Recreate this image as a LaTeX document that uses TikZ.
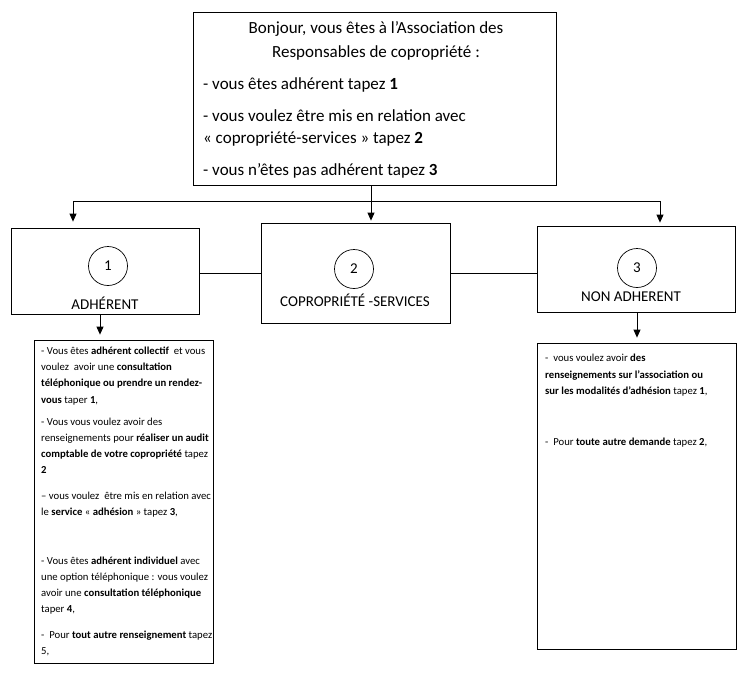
\documentclass[tikz,border=0pt]{standalone}
\usepackage{fontspec}
\setmainfont{Carlito}
\usetikzlibrary{arrows.meta}
\begin{document}
\begin{tikzpicture}[x=1pt,y=-1pt,
  box/.style={draw, line width=0.8pt, inner sep=0pt},
  circ/.style={draw, circle, minimum size=39pt, inner sep=0pt, line width=0.7pt, font=\fontsize{15}{18}\selectfont},
  arr/.style={-{Triangle[length=8pt,width=7pt]}, line width=0.8pt},
  lnk/.style={line width=0.8pt},
  lbl/.style={inner sep=0pt, font=\fontsize{15}{18}\selectfont},
  bigt/.style={inner sep=0pt, anchor=base west, font=\fontsize{17}{20}\selectfont},
  bigc/.style={inner sep=0pt, anchor=base, font=\fontsize{17}{20}\selectfont},
  smallt/.style={inner sep=0pt, anchor=base west, font=\fontsize{10.7}{13}\selectfont}]
\useasboundingbox[fill=white] (0,0) rectangle (753,678);
% boxes
\node[box, minimum width=363pt, minimum height=173pt] (top) at (374.5,98.5) {};
\node[box, minimum width=188pt, minimum height=86pt] (b1) at (105,271) {};
\node[box, minimum width=189pt, minimum height=100pt] (b2) at (355.5,273) {};
\node[box, minimum width=198pt, minimum height=86pt] (b3) at (636,269) {};
\node[box, minimum width=179pt, minimum height=323pt] (lb) at (123.5,501.5) {};
\node[box, minimum width=199pt, minimum height=306pt] (rb) at (636.5,496) {};
% circles and labels
\node[circ] (c1) at (108,266) {1};
\node[circ] (c2) at (354,269) {2};
\node[circ] (c3) at (637,268) {3};
\node[lbl] (n1) at (105,303) {ADHÉRENT};
\node[lbl] (n2) at (355,300) {COPROPRIÉTÉ -SERVICES};
\node[lbl] (n3) at (631,297) {NON ADHERENT};
% connectors
\coordinate (j) at (371,201);
\coordinate (jl) at (73,201);
\coordinate (jr) at (660,201);
\coordinate (dl) at (100,0);
\coordinate (dr) at (637,0);
\draw[lnk] (top.south -| j) -- (j);
\draw[lnk] (jl) -- (jr);
\draw[arr, shorten >=6pt] (jl) -- (jl |- b1.north);
\draw[arr, shorten >=2pt] (j) -- (j |- b2.north);
\draw[arr, shorten >=3pt] (jr) -- (jr |- b3.north);
\draw[lnk] (b1.east |- b2.west) -- (b2.west);
\draw[lnk] (b2.east) -- (b3.west |- b2.east);
\draw[arr, shorten >=5pt] (b1.south -| dl) -- (dl |- lb.north);
\draw[arr, shorten >=5pt] (b3.south -| dr) -- (dr |- rb.north);
% top text
\node[bigc] (t1) at (376,33) {Bonjour, vous êtes à l’Association des};
\node[bigc] (t2) at (376,57) {Responsables de copropriété :};
\node[bigt] (t3) at (203,89) {- vous êtes adhérent tapez \textbf{1}};
\node[bigt] (t4) at (203,121) {- vous voulez être mis en relation avec};
\node[bigt] (t5) at (203,143) {« copropriété-services » tapez \textbf{2}};
\node[bigt] (t6) at (203,175) {- vous n’êtes pas adhérent tapez \textbf{3}};
% lower left text
\node[smallt] (l1) at (41,354) {- Vous êtes \textbf{adhérent collectif}\ \ et vous};
\node[smallt] (l2) at (41,370) {voulez\ \ avoir une \textbf{consultation}};
\node[smallt] (l3) at (41,386) {\textbf{téléphonique ou prendre un rendez-}};
\node[smallt] (l4) at (41,403) {\textbf{vous} taper \textbf{1},};
\node[smallt] (l5) at (41,425) {- Vous vous voulez avoir des};
\node[smallt] (l6) at (41,441) {renseignements pour \textbf{réaliser un audit}};
\node[smallt] (l7) at (41,457) {\textbf{comptable de votre copropriété} tapez};
\node[smallt] (l8) at (41,473) {\textbf{2}};
\node[smallt] (l9) at (41,499) {– vous voulez\ \ être mis en relation avec};
\node[smallt] (l10) at (41,515) {le \textbf{service} « \textbf{adhésion} » tapez \textbf{3},};
\node[smallt] (l11) at (41,564) {- Vous êtes \textbf{adhérent individuel} avec};
\node[smallt] (l12) at (41,580) {une option téléphonique : vous voulez};
\node[smallt] (l13) at (41,596) {avoir une \textbf{consultation téléphonique}};
\node[smallt] (l14) at (41,612) {taper \textbf{4},};
\node[smallt] (l15) at (41,638) {-\ \ Pour \textbf{tout autre renseignement} tapez};
\node[smallt] (l16) at (41,654) {5,};
% lower right text
\node[smallt] (r1) at (545,361) {-\ \ vous voulez avoir \textbf{des}};
\node[smallt] (r2) at (545,378) {\textbf{renseignements sur l’association ou}};
\node[smallt] (r3) at (545,394) {\textbf{sur les modalités d’adhésion} tapez \textbf{1},};
\node[smallt] (r4) at (545,445) {-\ \ Pour \textbf{toute autre demande} tapez \textbf{2},};
\end{tikzpicture}
\end{document}
